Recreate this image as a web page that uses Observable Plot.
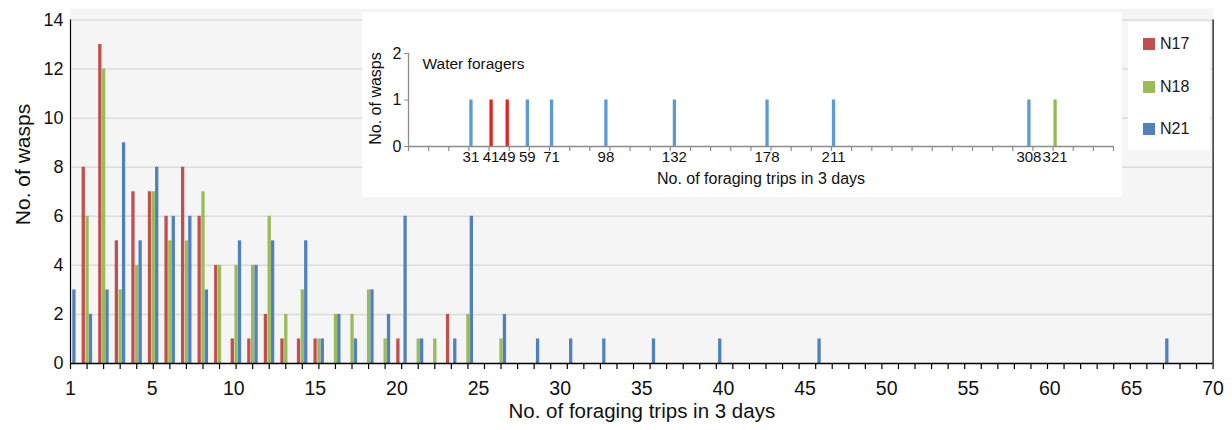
<!DOCTYPE html>
<html>
<head>
<meta charset="utf-8">
<script src="https://cdn.jsdelivr.net/npm/d3@7"></script>
<script src="https://cdn.jsdelivr.net/npm/@observablehq/plot@0.6"></script>
<style>
  html, body { margin: 0; padding: 0; background: #fff; }
  body { font-family: "Liberation Sans", Arial, sans-serif; }
  #wrap { position: relative; width: 1232px; height: 430px; overflow: hidden; }
  #wrap > svg { position: absolute; left: 0; top: 0; }
  #inset { position: absolute; left: 362px; top: 12px; width: 760px; height: 185px; background: #fff; }
  #legend { position: absolute; left: 1128px; top: 22px; width: 82px; height: 128px; background: #fff; }
  .lg { position: absolute; left: 15px; font-size: 16px; color: #1a1a1a; line-height: 16px; }
  .lg span { display: inline-block; width: 12px; height: 12px; margin-right: 5px; vertical-align: -1px; }
</style>
</head>
<body>
<div id="wrap"></div>
<script>
// ---------- Main chart data (No. of foraging trips in 3 days) ----------
const trips = [1,2,3,4,5,6,7,8,9,10,11,12,13,14,15,16,17,18,19,20,21,22,23,24,25,27,29,31,33,36,40,46,67];
const n17   = [0,8,13,5,7,7,6,8,6,4,1,1,2,1,1,1,0,0,0,0,1,0,0,2,0,0,0,0,0,0,0,0,0];
const n18   = [0,6,12,3,4,7,5,5,7,4,4,4,6,2,3,1,2,2,3,1,0,1,1,0,2,1,0,0,0,0,0,0,0];
const n21   = [3,2,3,9,5,8,6,6,3,0,5,4,5,0,5,1,2,1,3,2,6,1,0,1,6,2,1,1,1,1,1,1,1];
const seriesNames = ["N17","N18","N21"];
const seriesColors = ["#C0504D","#9BBB59","#4F81BD"];
const xTickLabels = ["1","5","10","15","20","25","30","35","40","45","50","55","60","65","70"];
const yTicks = [0,2,4,6,8,10,12,14];

// ---------- Inset data (Water foragers) ----------
const waterTrips  = [31,41,49,59,71,98,132,178,211,308,321];
const waterColony = ["N21","N17","N17","N21","N21","N21","N21","N21","N21","N21","N18"];
const waterCount  = [1,1,1,1,1,1,1,1,1,1,1];
const insetColors = ["#E2231A","#92BD4E","#5B9BD5"];
const insetYTicks = [0,1,2];

const FONT = '"Liberation Sans", Arial, sans-serif';
const wrap = document.getElementById("wrap");

const seriesValues = [n17, n18, n21];
const offsets = [-3.8, 0, 3.4];
const barMarks = seriesNames.map((name, s) => {
  const rows = trips.map((t, i) => ({trips: t, n: seriesValues[s][i]})).filter(d => d.n > 0);
  return Plot.ruleX(rows, {x: "trips", y1: 0, y2: "n", stroke: seriesColors[s], strokeWidth: 3.3, dx: offsets[s]});
});

const main = Plot.plot({
  width: 1232, height: 430,
  marginLeft: 70, marginRight: 19.4, marginTop: 8, marginBottom: 67,
  x: {domain: [1, 70], axis: null},
  y: {domain: [0, 14.47], axis: null},
  style: {fontFamily: FONT, background: "#fff", color: "#000"},
  marks: [
    Plot.frame({fill: "#f5f5f5", stroke: null}),
    Plot.gridY(yTicks.filter(d => d > 0), {stroke: "#dcdcdc", strokeOpacity: 1, strokeWidth: 1.5}),
    ...barMarks,
    Plot.ruleX([1], {y1: 0, y2: 14, stroke: "#000", strokeWidth: 1.2}),
    Plot.ruleX([70], {y1: 0, y2: 14, stroke: "#000", strokeWidth: 1.2}),
    Plot.ruleY([0], {stroke: "#000", strokeWidth: 1.5}),
    Plot.axisX(d3.range(1, 71), {tickSize: 6, tickFormat: () => "", label: null, stroke: "#000", strokeWidth: 1.2}),
    Plot.text(xTickLabels, {x: (d, i) => 1 + i * 69 / (xTickLabels.length - 1), y: 0, dy: 25, fontSize: 19.5, fill: "#111"}),
    Plot.axisY(yTicks, {tickSize: 0, tickPadding: 7, fontSize: 18, label: null, fill: "#111"}),
    Plot.text(["No. of foraging trips in 3 days"], {frameAnchor: "bottom", dy: 54, fontSize: 20.5, fill: "#111"}),
    Plot.text(["No. of wasps"], {frameAnchor: "left", textAnchor: "middle", dx: -47, dy: -21.5, rotate: -90, fontSize: 21, fill: "#111"})
  ]
});
wrap.append(main);

// ---------- Inset ----------
const water = waterTrips.map((t, i) => ({trips: t, n: waterCount[i], colony: waterColony[i]}));
const GRAY = "#8c8c8c";
const inset = Plot.plot({
  width: 760, height: 185,
  marginLeft: 46, marginRight: 9, marginTop: 41, marginBottom: 51,
  x: {domain: [0, 350], axis: null},
  y: {domain: [0, 2], axis: null},
  color: {domain: seriesNames, range: insetColors},
  style: {fontFamily: FONT, background: "#fff", color: "#000"},
  marks: [
    Plot.ruleX(water, {x: "trips", y1: 0, y2: "n", stroke: "colony", strokeWidth: 3.3}),
    Plot.ruleX([0], {y1: 0, y2: 2, stroke: GRAY, strokeWidth: 1.3}),
    Plot.ruleY([0], {stroke: GRAY, strokeWidth: 1.5}),
    Plot.axisX(d3.range(0, 351, 10), {tickSize: 5, tickFormat: () => "", label: null, stroke: GRAY, strokeWidth: 1.2}),
    Plot.text(waterTrips, {x: d => d, y: 0, dy: 11, fontSize: 15, fill: "#111"}),
    Plot.axisY(insetYTicks, {tickSize: 4, tickPadding: 3, fontSize: 16, label: null, stroke: GRAY, fill: "#111"}),
    Plot.text(["Water foragers"], {frameAnchor: "top-left", lineAnchor: "middle", textAnchor: "start", dx: 14, dy: 10.5, fontSize: 15.5, fill: "#111"}),
    Plot.text(["No. of foraging trips in 3 days"], {frameAnchor: "bottom", dy: 37, fontSize: 16, fill: "#111"}),
    Plot.text(["No. of wasps"], {frameAnchor: "left", textAnchor: "middle", dx: -33, dy: -1.5, rotate: -90, fontSize: 16, fill: "#111"})
  ]
});
const insetBox = document.createElement("div");
insetBox.id = "inset";
insetBox.append(inset);
wrap.append(insetBox);

// ---------- Legend ----------
const legend = document.createElement("div");
legend.id = "legend";
seriesNames.forEach((name, i) => {
  const row = document.createElement("div");
  row.className = "lg";
  row.style.top = (14 + i * 42.7) + "px";
  const sw = document.createElement("span");
  sw.style.background = seriesColors[i];
  row.append(sw, document.createTextNode(name));
  legend.append(row);
});
wrap.append(legend);
</script>
</body>
</html>
